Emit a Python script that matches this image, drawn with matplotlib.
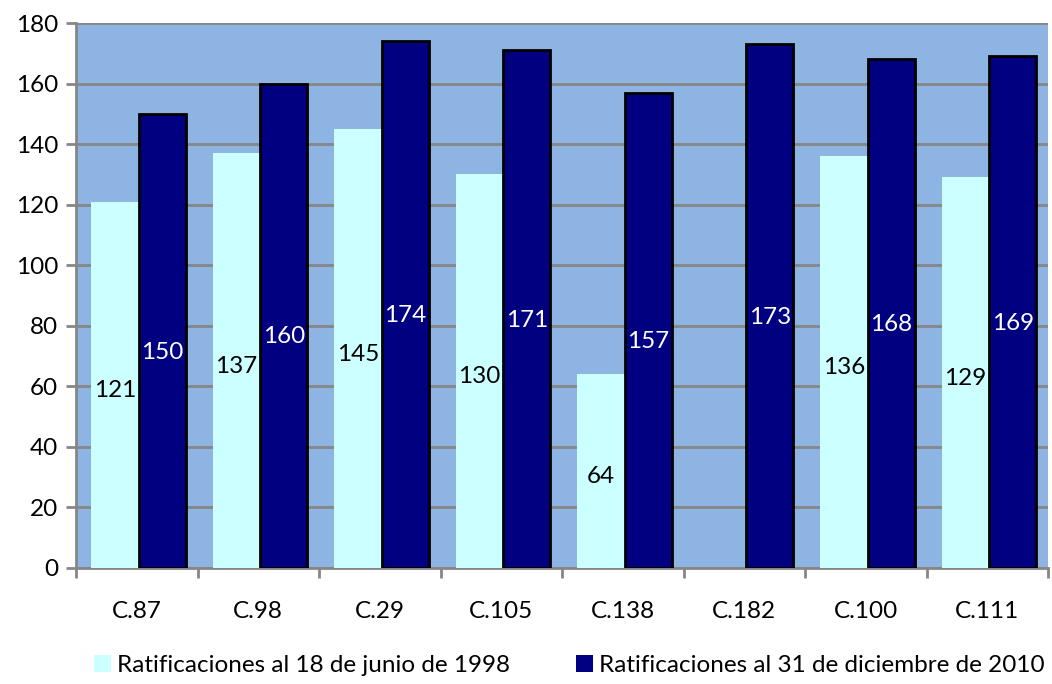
import numpy as np
import matplotlib.pyplot as plt
from matplotlib.patches import Patch

plt.rcParams['font.family'] = ['Lato', 'DejaVu Sans']

convenios = ['C.87', 'C.98', 'C.29', 'C.105', 'C.138', 'C.182', 'C.100', 'C.111']
rat_1998 = [121, 137, 145, 130, 64, 0, 136, 129]
rat_2010 = [150, 160, 174, 171, 157, 173, 168, 169]
lbl_1998 = 'Ratificaciones al 18 de junio de 1998'
lbl_2010 = 'Ratificaciones al 31 de diciembre de 2010'

col_light = '#CCFFFF'
col_dark = '#000080'
grid_col = '#868686'
fs = 17.5

fig = plt.figure(figsize=(10.52, 6.84), dpi=100)
ax = fig.add_axes([76 / 1052, 1 - 568 / 684, (1048 - 76) / 1052, (568 - 23) / 684])
ax.set_facecolor('#8EB4E3')

x = np.arange(len(convenios))
w = 0.39
b1 = ax.bar(x - w / 2 + 0.015, rat_1998, w, color=col_light, edgecolor='none', zorder=3)
b2 = ax.bar(x + w / 2 + 0.015, rat_2010, w, color=col_dark, edgecolor='black', linewidth=2, zorder=3)

# etiquetas de valor a media altura de cada barra (C.182 no tiene dato en 1998)
for rect, v in zip(b1, rat_1998):
    if v > 0:
        ax.annotate(str(v), (rect.get_x() + rect.get_width() / 2, v / 2),
                    xytext=(0, -4), textcoords='offset points',
                    ha='center', va='center', fontsize=fs, color='black', zorder=4)
for rect, v in zip(b2, rat_2010):
    ax.annotate(str(v), (rect.get_x() + rect.get_width() / 2, v / 2),
                xytext=(0, -8), textcoords='offset points',
                ha='center', va='center', fontsize=fs, color='white', zorder=4)

ax.set_xlim(-0.5, len(convenios) - 0.5)
ax.set_ylim(0, 180)
ax.set_yticks(range(0, 181, 20))
ax.yaxis.grid(True, color=grid_col, linewidth=2, zorder=1)
ax.set_axisbelow(True)

ax.set_xticks(x)
ax.set_xticklabels(convenios)
ax.set_xticks(np.arange(-0.5, len(convenios)), minor=True)
ax.tick_params(axis='x', which='major', length=0, pad=24, labelsize=fs)
ax.tick_params(axis='x', which='minor', length=7, width=2, color=grid_col, direction='out')
ax.tick_params(axis='y', length=7, width=2, color=grid_col, labelsize=fs, pad=6)

for side in ['top', 'right']:
    ax.spines[side].set_visible(False)
for side in ['left', 'bottom']:
    ax.spines[side].set_color(grid_col)
    ax.spines[side].set_linewidth(2)

handles = [Patch(facecolor=col_light, edgecolor='none'),
           Patch(facecolor=col_dark, edgecolor='none')]
fig.legend(handles, [lbl_1998, lbl_2010], loc='lower center', ncol=2,
           bbox_to_anchor=(0.541, -0.02), frameon=False, fontsize=fs,
           handlelength=0.7, handleheight=0.7, handletextpad=0.25, columnspacing=2.7)

fig.savefig('out.png', dpi=100)
